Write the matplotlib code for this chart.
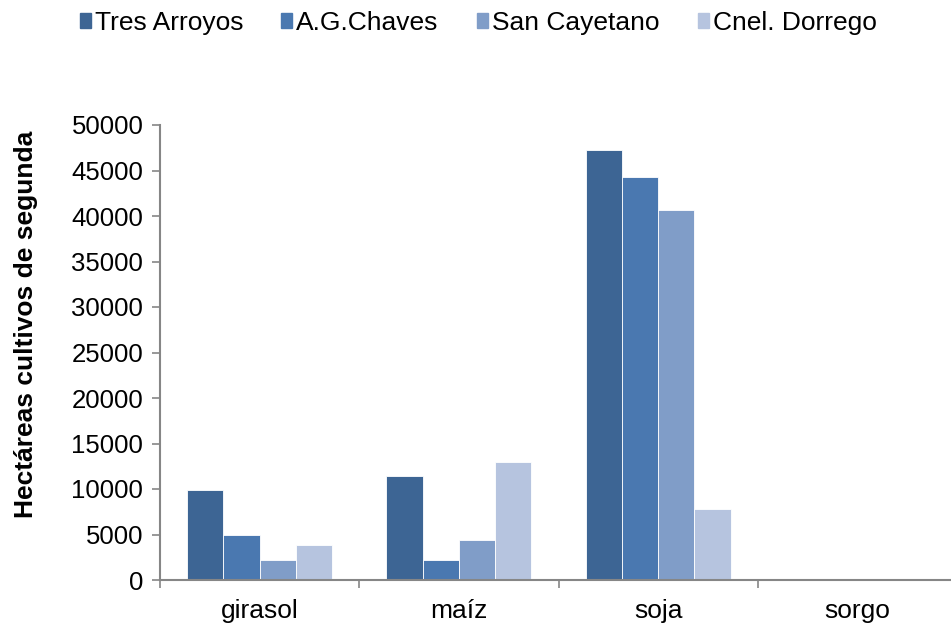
import numpy as np
import matplotlib
matplotlib.use("Agg")
import matplotlib.pyplot as plt
from matplotlib.patches import Rectangle

# ---------------------------------------------------------------------------
# Data
# ---------------------------------------------------------------------------

crops = ["girasol", "maíz", "soja", "sorgo"]
series = ["Tres Arroyos", "A.G.Chaves", "San Cayetano", "Cnel. Dorrego"]
tres_arroyos = [9900, 11400, 47200, 0]
ag_chaves = [5000, 2150, 44300, 0]
san_cayetano = [2200, 4450, 40700, 0]
cnel_dorrego = [3900, 13000, 7800, 0]
y_ticks = [0, 5000, 10000, 15000, 20000, 25000, 30000, 35000, 40000, 45000, 50000]

colors = ["#3D6594", "#4A78B0", "#809DC8", "#B6C4DF"]
axis_gray = "#868686"

plt.rcParams["font.family"] = ["Liberation Sans", "DejaVu Sans"]

# ---------------------------------------------------------------------------
# Figure
# ---------------------------------------------------------------------------

fig = plt.figure(figsize=(9.51, 6.27), dpi=100)
ax = fig.add_axes([160 / 951, 47 / 627, 797 / 951, 455 / 627])

values = [tres_arroyos, ag_chaves, san_cayetano, cnel_dorrego]
x = np.arange(len(crops))
width = 0.182
for i, (name, vals) in enumerate(zip(series, values)):
    offset = (i - 1.5) * width
    ax.bar(x + offset, vals, width=width, color=colors[i], label=name,
           edgecolor="white", linewidth=0.6)

ax.set_xlim(-0.5, len(crops) - 0.5)
ax.set_ylim(0, 50000)
ax.set_yticks(y_ticks)
ax.set_yticklabels([str(t) for t in y_ticks], fontsize=18.5)
ax.set_xticks(x)
ax.set_xticklabels(crops, fontsize=19)
ax.set_xticks(np.arange(len(crops) + 1) - 0.5, minor=True)
ax.tick_params(axis="x", which="major", length=0, pad=14)
ax.tick_params(axis="x", which="minor", length=6, width=1.2, color=axis_gray, direction="out")
ax.tick_params(axis="y", length=6, width=1.2, color=axis_gray, direction="out", pad=6)

for side in ("top", "right"):
    ax.spines[side].set_visible(False)
for side in ("left", "bottom"):
    ax.spines[side].set_color(axis_gray)
    ax.spines[side].set_linewidth(1.5)

ax.set_ylabel("Hectáreas cultivos de segunda", fontsize=19, fontweight="bold")
ax.yaxis.set_label_coords(-(160 - 38) / 797, (580 - 324) / 455)

handles = [Rectangle((0, 0), 1, 1, color=c) for c in colors]
fig.legend(handles, series, loc="upper left", bbox_to_anchor=(69 / 951, 1.0),
           ncol=4, frameon=False, fontsize=19, handlelength=0.42, handleheight=0.5,
           handletextpad=0.15, columnspacing=1.45, borderaxespad=0.0)

fig.savefig("out.png", dpi=100)
